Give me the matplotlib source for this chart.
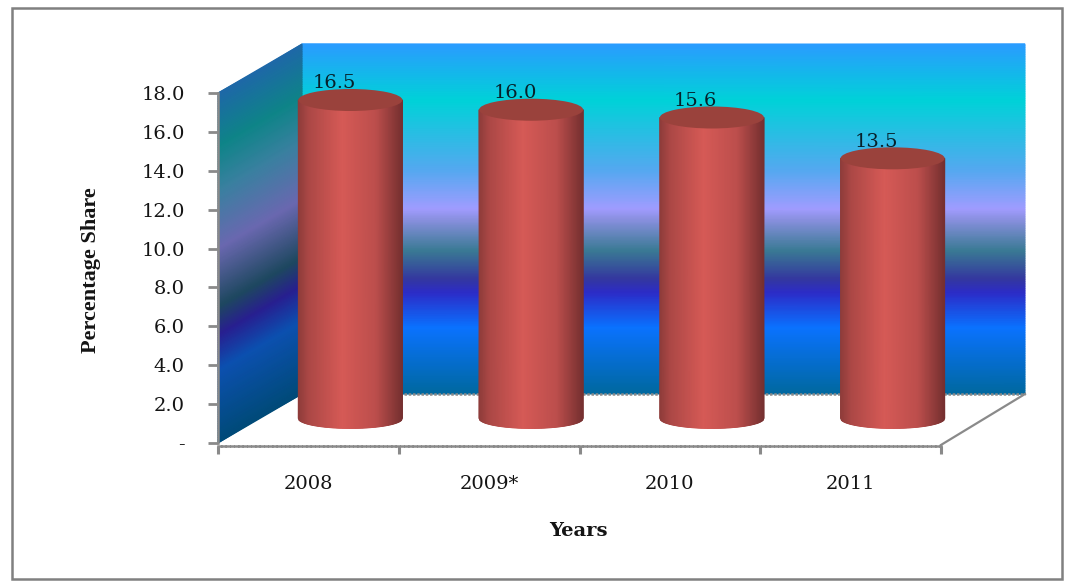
import numpy as np
import matplotlib
matplotlib.use("Agg")
import matplotlib.pyplot as plt
from matplotlib.colors import LinearSegmentedColormap
from matplotlib.patches import Ellipse, Rectangle

# Data
years = ["2008", "2009*", "2010", "2011"]
shares = [16.5, 16.0, 15.6, 13.5]
y_ticks = [0, 2, 4, 6, 8, 10, 12, 14, 16, 18]
y_tick_labels = ["-", "2.0", "4.0", "6.0", "8.0", "10.0", "12.0", "14.0", "16.0", "18.0"]

# Wall gradients, bottom to top
wall_stops = [(0.00, "#00689f"), (0.19, "#0a72ff"), (0.29, "#2c2cc8"), (0.33, "#34389f"),
              (0.41, "#3a7a94"), (0.50, "#8a90e0"), (0.53, "#a09cff"), (0.64, "#55a8f0"),
              (0.84, "#00d2d8"), (1.00, "#2a9cff")]
side_stops = [(0.00, "#004a78"), (0.21, "#0c50b0"), (0.31, "#281f90"), (0.39, "#1e4860"),
              (0.557, "#6a68b0"), (0.72, "#3a80a0"), (0.85, "#0e8488"), (1.00, "#1e68a8")]
wall_cmap = LinearSegmentedColormap.from_list("wall", wall_stops, N=512)
side_cmap = LinearSegmentedColormap.from_list("side", side_stops, N=512)
body_cmap = LinearSegmentedColormap.from_list(
    "body", [(0, "#8e3c3a"), (0.10, "#ac4846"), (0.42, "#d65a56"), (0.75, "#bc4e4c"), (1, "#763030")])

W, H = 1075, 583
fig = plt.figure(figsize=(W / 100, H / 100), dpi=100, facecolor="white")
plt.rcParams["font.family"] = ["DejaVu Serif"]
ink = "#141414"
num_size = 14

fig.add_artist(Rectangle((12 / W, 1 - 579 / H), 1050 / W, 571 / H, transform=fig.transFigure,
                         fill=False, edgecolor="#808080", linewidth=1.8))

ax = fig.add_axes([218 / W, 1 - 443 / H, 723 / W, 350 / H])
ax.set_xlim(0, 4)
ax.set_ylim(0, 18)
ax.patch.set_alpha(0)

# Depth of the 3D box in data units
dx = 84 / (723 / 4)
dy = 49 / (350 / 18)
grey = "#8a8a8a"

# Back wall
u = np.array([0, 4]) + dx
v = np.linspace(0, 1, 200)
X, V = np.meshgrid(u, v)
ax.pcolormesh(X, dy + 18 * V, V, cmap=wall_cmap, vmin=0, vmax=1, shading="gouraud",
              clip_on=False, zorder=1)

# Side wall, sheared along the depth
t = np.array([0, 1])
T, V = np.meshgrid(t, v)
ax.pcolormesh(T * dx, T * dy + 18 * V, V, cmap=side_cmap, vmin=0, vmax=1, shading="gouraud",
              clip_on=False, zorder=1)

# Floor outline
ax.plot([dx, 4 + dx], [dy, dy], color=grey, lw=1.8, ls=(0, (1, 0.7)), clip_on=False, zorder=2)
ax.plot([4, 4 + dx], [-0.1, dy], color=grey, lw=1.6, clip_on=False, zorder=2)

# Cylinders
half_w = 52 / (723 / 4)
semi_h = 11 / (350 / 18)
for i, (label, value) in enumerate(zip(years, shares)):
    cx = i + 0.5 + dx / 2
    base = dy / 2
    top = value + dy / 2 - 0.12
    ax.text(cx - 0.09, top + 0.85, f"{value:.1f}", ha="center", va="center",
            fontsize=num_size, color="#06202a", zorder=3, clip_on=False)
    s = np.linspace(-1, 1, 121)
    xs = cx + half_w * s
    low = base - semi_h * 0.9 * np.sqrt(1 - s ** 2)
    Xc = np.vstack([xs, xs])
    Yc = np.vstack([low, np.full_like(xs, top)])
    Cc = np.vstack([(s + 1) / 2, (s + 1) / 2])
    ax.pcolormesh(Xc, Yc, Cc, cmap=body_cmap, vmin=0, vmax=1, shading="gouraud",
                  clip_on=False, zorder=4)
    ax.add_patch(Ellipse((cx, top), 2 * half_w, 2 * semi_h, facecolor="#9a423c",
                         edgecolor="none", clip_on=False, zorder=5))

# Axes furniture
for side in ("top", "right"):
    ax.spines[side].set_visible(False)
ax.spines["left"].set_color(grey)
ax.spines["left"].set_linewidth(1.8)
ax.spines["bottom"].set_color(grey)
ax.spines["bottom"].set_linewidth(1.8)
ax.spines["bottom"].set_linestyle((0, (1, 0.7)))
ax.spines["bottom"].set_position(("outward", 2))
ax.spines["left"].set_zorder(6)

ax.set_yticks(y_ticks, y_tick_labels, fontsize=num_size, color=ink)
ax.tick_params(axis="y", length=7, width=2, color=grey, pad=17)
ax.set_xticks(range(5), [""] * 5)
ax.tick_params(axis="x", which="major", length=6, width=2.2, color=grey)
ax.set_xticks([0.5, 1.5, 2.5, 3.5], years, minor=True, fontsize=num_size, color=ink)
ax.tick_params(axis="x", which="minor", length=0, pad=21)

ax.set_xlabel("Years", fontsize=14, fontweight="bold", color=ink)
ax.xaxis.set_label_coords(0.499, -0.225)
ax.set_ylabel("Percentage Share", fontsize=16, fontweight="bold", color=ink,
              family="Liberation Serif")
ax.yaxis.set_label_coords(-0.162, 0.495)

fig.savefig("out.png", dpi=100)
